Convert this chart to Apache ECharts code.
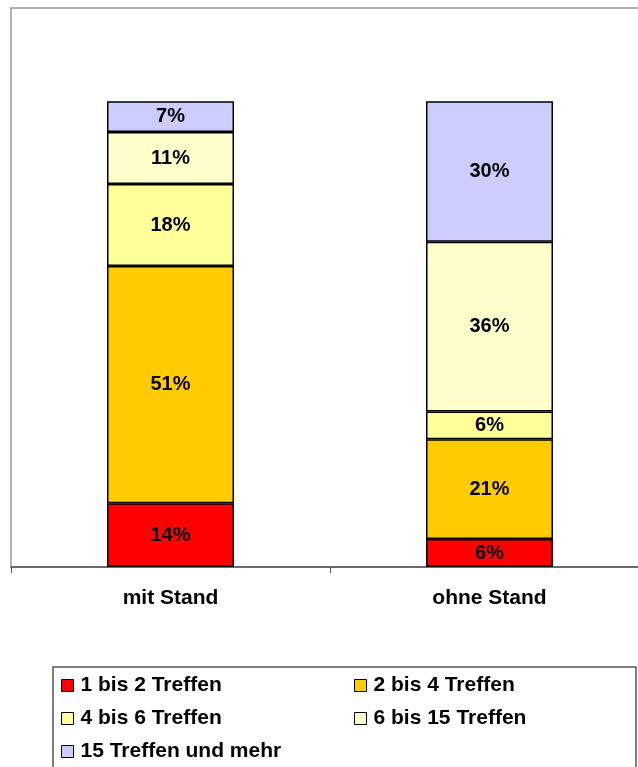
<!DOCTYPE html>
<html>
<head>
<meta charset="utf-8">
<script src="https://cdn.jsdelivr.net/npm/echarts@6/dist/echarts.min.js"></script>
<style>
  html, body { margin: 0; padding: 0; background: #fff; }
  #chart { width: 638px; height: 767px; }
</style>
</head>
<body>
<div id="chart"></div>
<script>
var categories = ['mit Stand', 'ohne Stand'];
var seriesNames = ['1 bis 2 Treffen', '2 bis 4 Treffen', '4 bis 6 Treffen', '6 bis 15 Treffen', '15 Treffen und mehr'];
var colors = ['#FF0000', '#FFCC00', '#FFFF99', '#FFFFCC', '#CCCCFF'];
// Anteile in %, je Kategorie (mit Stand, ohne Stand)
var s1bis2 = [13.7, 6.0];
var s2bis4 = [50.9, 21.4];
var s4bis6 = [17.6, 6.0];
var s6bis15 = [11.2, 36.4];
var s15plus = [6.6, 30.2];
var values = [s1bis2, s2bis4, s4bis6, s6bis15, s15plus];

var font = 'Liberation Sans, Arial, sans-serif';
var chart = echarts.init(document.getElementById('chart'));

var series = [];
for (var i = 0; i < seriesNames.length; i++) {
  series.push({
    name: seriesNames[i],
    type: 'bar',
    stack: 'total',
    barWidth: 127,
    data: values[i],
    itemStyle: { color: colors[i], borderColor: '#000', borderWidth: 1.5 },
    label: {
      show: true,
      position: 'inside',
      color: '#000',
      fontFamily: font,
      fontWeight: 'bold',
      fontSize: 20,
      formatter: function (p) { return Math.round(p.value) + '%'; }
    }
  });
}

// legend positions: [left, top] per item (2 columns, 3 rows)
var legendPos = [[61, 675], [354, 675], [61, 708], [354, 708], [61, 741]];
var legends = [];
for (var j = 0; j < seriesNames.length; j++) {
  legends.push({
    left: legendPos[j][0], top: legendPos[j][1], padding: 0,
    data: [seriesNames[j]],
    icon: 'rect', itemWidth: 12, itemHeight: 12, itemGap: 0,
    textStyle: { color: '#000', fontFamily: font, fontWeight: 'bold', fontSize: 21, lineHeight: 20, padding: [0, 0, 0, 2] },
    itemStyle: { borderColor: '#000', borderWidth: 1 },
    selectedMode: false
  });
}

var option = {
  animation: false,
  grid: {
    left: 11, top: 8, width: 638, height: 559,
    outerBoundsMode: 'none', containLabel: false,
    show: true, borderColor: '#999', borderWidth: 1.5, backgroundColor: 'transparent'
  },
  xAxis: {
    type: 'category',
    data: categories,
    axisLine: { lineStyle: { color: '#555', width: 1.5 } },
    axisTick: { show: true, length: 6, lineStyle: { color: '#555' } },
    axisLabel: {
      margin: 21,
      color: '#000',
      fontFamily: font,
      fontWeight: 'bold',
      fontSize: 21
    }
  },
  yAxis: { type: 'value', min: 0, max: 120, show: false, splitLine: { show: false } },
  legend: legends,
  graphic: [{
    type: 'rect',
    shape: { x: 53, y: 667, width: 583, height: 110 },
    style: { fill: 'none', stroke: '#555', lineWidth: 1.5 },
    silent: true
  }],
  series: series
};

chart.setOption(option);
</script>
</body>
</html>
